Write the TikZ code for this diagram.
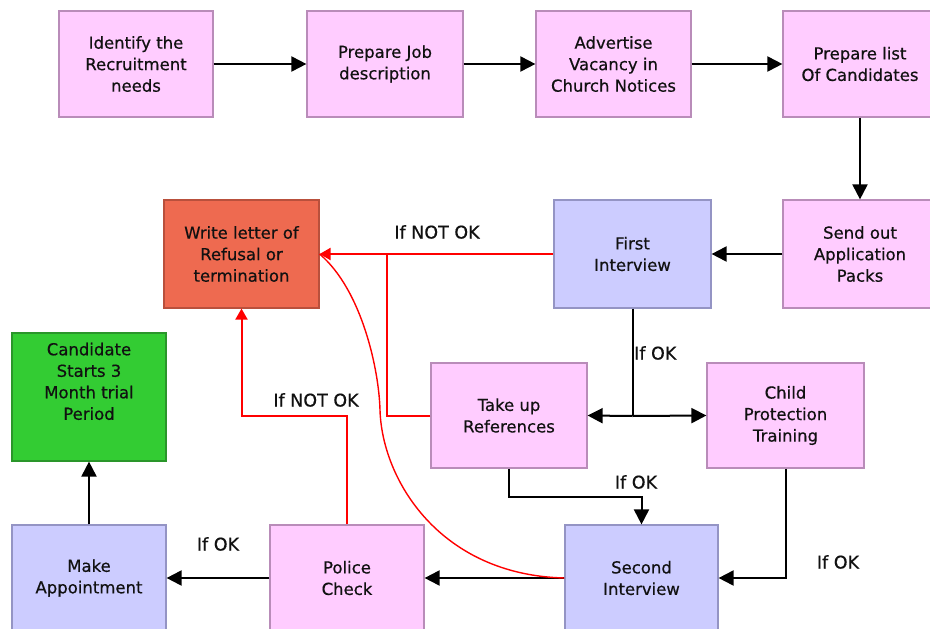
\documentclass[tikz,border=0pt]{standalone}
\usepackage{fontspec}
\setmainfont{DejaVu Sans}
\newfontfamily\boxfont[FakeBold=0.5]{DejaVu Sans}
\usetikzlibrary{arrows.meta,calc}
\definecolor{pinkf}{HTML}{FFCCFF}
\definecolor{pinkd}{HTML}{B98CB9}
\definecolor{lavf}{HTML}{CCCCFF}
\definecolor{lavd}{HTML}{9494C4}
\definecolor{redf}{HTML}{EE6A50}
\definecolor{redd}{HTML}{B9503C}
\definecolor{grnf}{HTML}{33CC33}
\definecolor{grnd}{HTML}{2A962A}
\definecolor{txt}{HTML}{111111}
\definecolor{redl}{HTML}{FF0000}
\begin{document}
\begin{tikzpicture}[x=1pt,y=-1pt,
  box/.style={line width=1.2pt, minimum width=155pt, minimum height=106pt, inner sep=0pt, align=center, font=\boxfont\fontsize{16.5}{21.5}\selectfont, text=txt},
  pinkbox/.style={box, fill=pinkf, draw=pinkd},
  lavbox/.style={box, fill=lavf, draw=lavd},
  redbox/.style={box, fill=redf, draw=redd},
  grnbox/.style={box, fill=grnf, draw=grnd},
  arr/.style={draw=black, line width=2pt, -{Triangle[length=15pt,width=15pt]}},
  redarr/.style={draw=redl, line width=2pt, -{Triangle[length=11pt,width=12pt]}},
  redline/.style={draw=redl, line width=2pt},
  lbl/.style={font=\boxfont\fontsize{17.5}{20}\selectfont, text=txt, inner sep=0pt}
]
\useasboundingbox (0,0) rectangle (930,629);
\clip (0,0) rectangle (930,629);
\fill[white] (0,0) rectangle (930,629);

% nodes
\node[pinkbox, minimum width=154pt] (b1) at (136,64) {Identify the\\Recruitment\\needs};
\node[pinkbox, minimum width=156pt] (b2) at (385,64) {Prepare Job\\description};
\node[pinkbox] (b3) at (613.5,64) {Advertise\\Vacancy in\\Church Notices};
\node[pinkbox, minimum width=154pt] (b4) at (860,64) {Prepare list\\Of Candidates};
\node[pinkbox, minimum width=154pt, minimum height=108pt] (b5) at (860,254) {Send out\\Application\\Packs};
\node[lavbox, minimum width=157pt, minimum height=108pt] (b6) at (632.5,254) {First\\Interview};
\node[redbox, minimum height=108pt] (b7) at (241.5,254) {Write letter of\\Refusal or\\termination};
\node[grnbox, minimum width=154pt, minimum height=128pt] (b8) at (89,397) {Candidate\\Starts 3\\Month trial\\Period\\[10pt]};
\node[pinkbox, minimum width=156pt, minimum height=105pt] (b9) at (509,415.5) {Take up\\References};
\node[pinkbox, minimum width=157pt, minimum height=105pt] (b10) at (785.5,415.5) {Child\\Protection\\Training};
\node[lavbox, minimum width=154pt] (b11) at (89,578) {Make\\Appointment};
\node[pinkbox, minimum width=154pt] (b12) at (347,578) {Police\\Check};
\node[lavbox, minimum width=153pt] (b13) at (641.5,578) {Second\\Interview};

% helper coordinates
\coordinate (split) at (632.5,416);
\coordinate (j2) at (641.5,497);
\coordinate (r1) at (387,254);
\coordinate (r2) at (241.5,416);
\coordinate (rc) at (380,410);

% black connectors
\draw[arr] (b1) -- (b2);
\draw[arr] (b2) -- (b3);
\draw[arr] (b3) -- (b4);
\draw[arr] (b4) -- (b5);
\draw[arr] (b5) -- (b6);
\draw[line width=2pt] (b6.south) -- (split);
\draw[arr] (split) -- (b9.east);
\draw[arr] (split) -- (b10.west);
\draw[arr] (b9.south) |- (j2) -- (b13.north);
\draw[arr] (b10.south) |- (b13.east);
\draw[arr] (b13.west) -- (b12.east);
\draw[arr] (b12.west) -- (b11.east);
\draw[arr] (b11.north) -- (b8.south);

% red connectors
\draw[redline] (b9.west) -| (r1);
\draw[redarr] (b6.west) -- (b7.east);
\draw[redarr] (b12.north) |- (r2) -- (b7.south);
\draw[draw=redl, line width=1.4pt] (b13.west) .. controls (440,575) and (382,480) .. (rc) .. controls (379,370) and (362,290) .. (b7.east);

% labels
\node[lbl] (l1) at (437,232) {If NOT OK};
\node[lbl] (l2) at (316,400) {If NOT OK};
\node[lbl, anchor=west] (l3) at (634,353) {If OK};
\node[lbl] (l4) at (636,482) {If OK};
\node[lbl] (l5) at (838,562) {If OK};
\node[lbl] (l6) at (218,544) {If OK};
\end{tikzpicture}
\end{document}
